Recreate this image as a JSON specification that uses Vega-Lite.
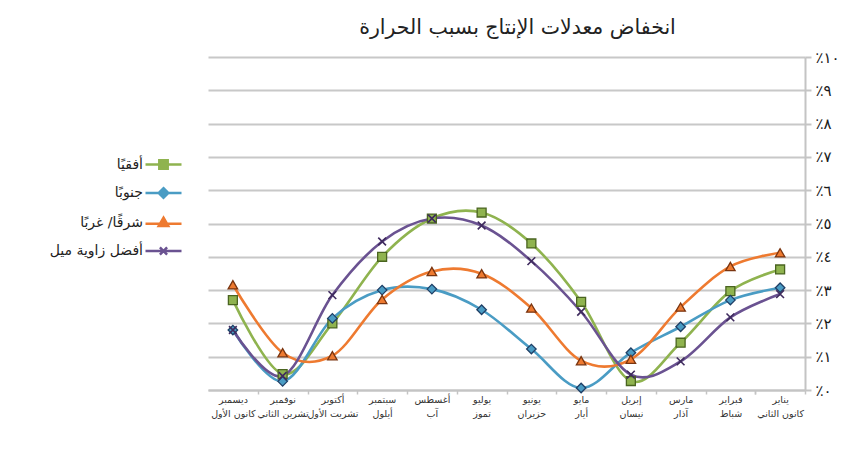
{
  "$schema": "https://vega.github.io/schema/vega-lite/v6.json",
  "width": 597,
  "height": 333,
  "autosize": "none",
  "padding": {"left": 208, "top": 57, "right": 43, "bottom": 63},
  "background": "white",
  "config": {"view": {"stroke": null}, "font": "DejaVu Sans"},
  "title": {
    "text": "انخفاض معدلات الإنتاج بسبب الحرارة",
    "font": "DejaVu Sans",
    "fontSize": 20.5,
    "fontWeight": "normal",
    "color": "#222222",
    "anchor": "middle",
    "dx": 11,
    "offset": 12
  },
  "data": {
    "values": [
      {"month": "يناير|كانون الثاني", "series": "أفقيًا", "value": 3.62},
      {"month": "فبراير|شباط", "series": "أفقيًا", "value": 2.97},
      {"month": "مارس|آذار", "series": "أفقيًا", "value": 1.42},
      {"month": "إبريل|نيسان", "series": "أفقيًا", "value": 0.27},
      {"month": "مايو|أيار", "series": "أفقيًا", "value": 2.65},
      {"month": "يونيو|حزيران", "series": "أفقيًا", "value": 4.4},
      {"month": "يوليو|تموز", "series": "أفقيًا", "value": 5.33},
      {"month": "أغسطس|آب", "series": "أفقيًا", "value": 5.15},
      {"month": "سبتمبر|أيلول", "series": "أفقيًا", "value": 4.0},
      {"month": "أكتوبر|تشريت الأول", "series": "أفقيًا", "value": 2.0},
      {"month": "نوفمبر|تشرين الثاني", "series": "أفقيًا", "value": 0.48},
      {"month": "ديسمبر|كانون الأول", "series": "أفقيًا", "value": 2.7},

      {"month": "يناير|كانون الثاني", "series": "جنوبًا", "value": 3.07},
      {"month": "فبراير|شباط", "series": "جنوبًا", "value": 2.7},
      {"month": "مارس|آذار", "series": "جنوبًا", "value": 1.9},
      {"month": "إبريل|نيسان", "series": "جنوبًا", "value": 1.12},
      {"month": "مايو|أيار", "series": "جنوبًا", "value": 0.06},
      {"month": "يونيو|حزيران", "series": "جنوبًا", "value": 1.23},
      {"month": "يوليو|تموز", "series": "جنوبًا", "value": 2.41},
      {"month": "أغسطس|آب", "series": "جنوبًا", "value": 3.03},
      {"month": "سبتمبر|أيلول", "series": "جنوبًا", "value": 3.0},
      {"month": "أكتوبر|تشريت الأول", "series": "جنوبًا", "value": 2.15},
      {"month": "نوفمبر|تشرين الثاني", "series": "جنوبًا", "value": 0.26},
      {"month": "ديسمبر|كانون الأول", "series": "جنوبًا", "value": 1.8},

      {"month": "يناير|كانون الثاني", "series": "شرقًا/ غربًا", "value": 4.12},
      {"month": "فبراير|شباط", "series": "شرقًا/ غربًا", "value": 3.71},
      {"month": "مارس|آذار", "series": "شرقًا/ غربًا", "value": 2.49},
      {"month": "إبريل|نيسان", "series": "شرقًا/ غربًا", "value": 0.92},
      {"month": "مايو|أيار", "series": "شرقًا/ غربًا", "value": 0.88},
      {"month": "يونيو|حزيران", "series": "شرقًا/ غربًا", "value": 2.46},
      {"month": "يوليو|تموز", "series": "شرقًا/ غربًا", "value": 3.49},
      {"month": "أغسطس|آب", "series": "شرقًا/ غربًا", "value": 3.56},
      {"month": "سبتمبر|أيلول", "series": "شرقًا/ غربًا", "value": 2.72},
      {"month": "أكتوبر|تشريت الأول", "series": "شرقًا/ غربًا", "value": 1.03},
      {"month": "نوفمبر|تشرين الثاني", "series": "شرقًا/ غربًا", "value": 1.12},
      {"month": "ديسمبر|كانون الأول", "series": "شرقًا/ غربًا", "value": 3.16},

      {"month": "يناير|كانون الثاني", "series": "أفضل زاوية ميل", "value": 2.88},
      {"month": "فبراير|شباط", "series": "أفضل زاوية ميل", "value": 2.18},
      {"month": "مارس|آذار", "series": "أفضل زاوية ميل", "value": 0.86},
      {"month": "إبريل|نيسان", "series": "أفضل زاوية ميل", "value": 0.46},
      {"month": "مايو|أيار", "series": "أفضل زاوية ميل", "value": 2.35},
      {"month": "يونيو|حزيران", "series": "أفضل زاوية ميل", "value": 3.87},
      {"month": "يوليو|تموز", "series": "أفضل زاوية ميل", "value": 4.94},
      {"month": "أغسطس|آب", "series": "أفضل زاوية ميل", "value": 5.15},
      {"month": "سبتمبر|أيلول", "series": "أفضل زاوية ميل", "value": 4.46},
      {"month": "أكتوبر|تشريت الأول", "series": "أفضل زاوية ميل", "value": 2.85},
      {"month": "نوفمبر|تشرين الثاني", "series": "أفضل زاوية ميل", "value": 0.42},
      {"month": "ديسمبر|كانون الأول", "series": "أفضل زاوية ميل", "value": 1.8}
    ]
  },
  "encoding": {
    "x": {
      "field": "month",
      "type": "nominal",
      "sort": ["يناير|كانون الثاني", "فبراير|شباط", "مارس|آذار", "إبريل|نيسان", "مايو|أيار", "يونيو|حزيران", "يوليو|تموز", "أغسطس|آب", "سبتمبر|أيلول", "أكتوبر|تشريت الأول", "نوفمبر|تشرين الثاني", "ديسمبر|كانون الأول"],
      "scale": {"type": "band", "paddingInner": 0, "paddingOuter": 0, "reverse": true},
      "bandPosition": 0.5,
      "axis": {
        "title": null,
        "labelExpr": "datum.value ? split(datum.value, '|') : ''",
        "labelAngle": 0,
        "labelFont": "DejaVu Sans",
        "labelFontSize": 9.5,
        "labelColor": "#333333",
        "labelPadding": 0,
        "labelLineHeight": 14,
        "labelOverlap": false,
        "labelBaseline": "top",
        "tickBand": "extent",
        "tickColor": "#c4c4c4",
        "tickSize": 4,
        "tickWidth": 1.5,
        "domainColor": "#c4c4c4",
        "domainWidth": 2,
        "grid": false
      }
    },
    "y": {
      "field": "value",
      "type": "quantitative",
      "scale": {"domain": [0, 10], "nice": false},
      "axis": {
        "orient": "right",
        "title": null,
        "values": [0, 1, 2, 3, 4, 5, 6, 7, 8, 9, 10],
        "labelExpr": "'٪' + ['٠','١','٢','٣','٤','٥','٦','٧','٨','٩','١٠'][datum.value]",
        "labelFont": "DejaVu Sans",
        "labelFontSize": 15,
        "labelColor": "#1a1a1a",
        "labelPadding": 4,
        "grid": true,
        "gridColor": "#c8c8c8",
        "gridWidth": 2,
        "domain": true,
        "domainColor": "#c4c4c4",
        "domainWidth": 2,
        "ticks": true,
        "tickColor": "#c4c4c4",
        "tickWidth": 2,
        "tickSize": 6
      }
    }
  },
  "layer": [
    {
      "mark": {"type": "point", "filled": true, "opacity": 0},
      "encoding": {
        "shape": {
          "field": "series",
          "type": "nominal",
          "scale": {
            "domain": ["أفقيًا", "جنوبًا", "شرقًا/ غربًا", "أفضل زاوية ميل"],
            "range": [
              "M-1.5,0H-0.35M0.35,0H1.5M-0.35,-0.35H0.35V0.35H-0.35Z",
              "M-1.5,0H-0.4M0.4,0H1.5M0,-0.4L0.4,0L0,0.4L-0.4,0Z",
              "M-1.5,0.1H-0.3M0.3,0.1H1.5M0,-0.4L0.4,0.3H-0.4Z",
              "M-1.5,0H1.5M-0.3,-0.3L0.3,0.3M-0.3,0.3L0.3,-0.3"
            ]
          },
          "legend": {
            "title": null,
            "orient": "none",
            "legendX": -58,
            "legendY": 94,
            "symbolSize": 576,
            "symbolOpacity": 1,
            "symbolFillColor": "#888888",
            "symbolStrokeColor": "#888888",
            "symbolStrokeWidth": 2.5,
            "labelAlign": "right",
            "labelOffset": -34,
            "labelFont": "DejaVu Sans",
            "labelFontSize": 14,
            "labelColor": "#222222",
            "rowPadding": 5.5
          }
        }
      }
    },
    {
      "mark": {"type": "line", "interpolate": "cardinal", "strokeWidth": 2.6},
      "encoding": {
        "color": {
          "field": "series",
          "type": "nominal",
          "scale": {"domain": ["أفقيًا", "جنوبًا", "شرقًا/ غربًا", "أفضل زاوية ميل"], "range": ["#8fb34f", "#4a9cc4", "#ee7a30", "#6a5291"]},
          "legend": null
        }
      }
    },
    {
      "transform": [{"filter": "datum.series === 'أفقيًا'"}],
      "mark": {"type": "point", "filled": true, "shape": "square", "size": 80, "stroke": "#4a6420", "strokeWidth": 1.3, "opacity": 1},
      "encoding": {
        "color": {"field": "series", "type": "nominal", "legend": null}
      }
    },
    {
      "transform": [{"filter": "datum.series === 'جنوبًا'"}],
      "mark": {"type": "point", "filled": true, "shape": "diamond", "size": 90, "stroke": "#1f3f66", "strokeWidth": 1.3, "opacity": 1},
      "encoding": {
        "color": {"field": "series", "type": "nominal", "legend": null}
      }
    },
    {
      "transform": [{"filter": "datum.series === 'شرقًا/ غربًا'"}],
      "mark": {"type": "point", "filled": true, "shape": "triangle-up", "size": 90, "stroke": "#7a3510", "strokeWidth": 1.3, "opacity": 1},
      "encoding": {
        "color": {"field": "series", "type": "nominal", "legend": null}
      }
    },
    {
      "transform": [{"filter": "datum.series === 'أفضل زاوية ميل'"}],
      "mark": {"type": "point", "filled": false, "shape": "M-1,-1L1,1M-1,1L1,-1", "size": 60, "stroke": "#3f2b5e", "strokeWidth": 1.6, "opacity": 1}
    }
  ]
}
